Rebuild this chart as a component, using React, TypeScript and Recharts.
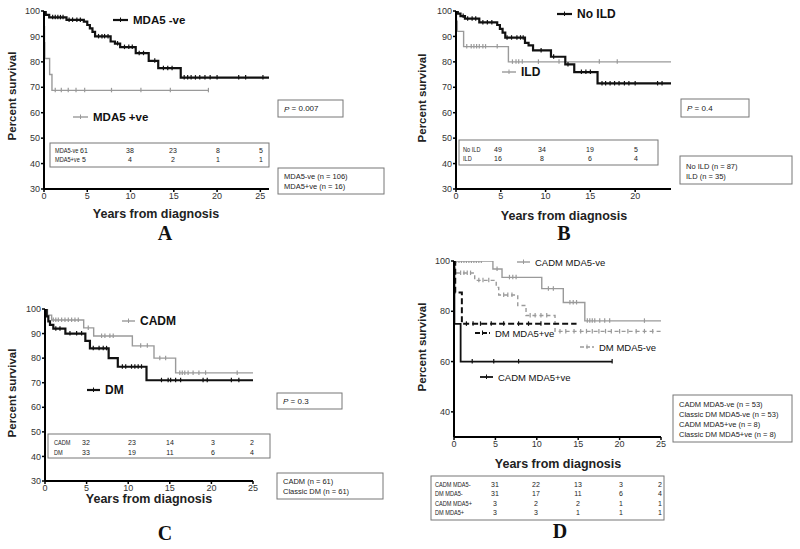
import React from "react";
import { LineChart, Line, XAxis, YAxis } from "recharts";

const FONT = '"Liberation Sans", Arial, sans-serif';
const BLACK = "#111";
const GREY = "#9a9a9a";

// ---- A: MDA5 status ----
const aNegT = [0, 0.2, 0.6, 2.6, 4.6, 5.0, 5.3, 5.6, 5.9, 7.7, 8.2, 8.8, 10.6, 12.1, 13.2, 15.8, 26];
const aNegS = [100, 98.5, 97.5, 96.5, 95.8, 94.5, 93.2, 91.8, 90, 88, 87.2, 85.8, 83.4, 80.4, 77.5, 73.8, 73.8];
const aNegCens = [1.0, 1.3, 1.6, 1.9, 2.2, 2.9, 3.3, 3.8, 4.2, 6.3, 6.7, 7.0, 7.4, 8.5, 9.3, 9.8, 10.2, 11.0, 11.5, 12.8, 13.8, 14.3, 14.8, 16.2, 16.6, 17.0, 17.5, 18.0, 18.6, 19.2, 20.0, 22.5, 23.3, 25.3];
const aPosT = [0, 0.02, 0.06, 0.1, 0.65, 0.92, 19];
const aPosS = [100, 93.8, 87.5, 81.3, 75, 68.8, 68.8];
const aPosCens = [1.3, 2.0, 2.8, 3.7, 4.7, 7.8, 11.2, 14.6, 19];

// ---- B: ILD ----
const bNoT = [0, 0.2, 0.5, 1.0, 2.6, 4.6, 4.9, 5.2, 5.5, 7.7, 8.1, 8.6, 10.6, 12.2, 13.2, 15.8, 24];
const bNoS = [100, 99, 98, 97, 95.5, 94.5, 93, 91.5, 89.5, 87.5, 86.5, 84.5, 82, 79, 76, 71.5, 71.5];
const bNoCens = [0.8, 1.3, 1.8, 2.2, 3.0, 3.5, 4.0, 5.7, 6.2, 6.8, 7.2, 7.5, 9.5, 10.9, 12.5, 14.0, 14.5, 15.0, 16.3, 16.7, 17.2, 17.7, 18.2, 18.8, 19.3, 20.0, 22.5, 23.0];
const bIldT = [0, 0.05, 0.15, 0.85, 5.85, 24];
const bIldS = [100, 96, 92, 86, 80, 80];
const bIldCens = [1.2, 1.7, 2.0, 2.3, 2.6, 3.0, 3.3, 4.6, 6.3, 6.7, 7.0, 7.4, 9.2, 11.5, 16.0, 18.0];

// ---- C: CADM vs DM ----
const cCadmT = [0, 0.3, 0.8, 4.65, 5.85, 10.5, 13.1, 15.7, 25];
const cCadmS = [100, 97.5, 95.5, 92.3, 89, 85, 80, 74, 74];
const cCadmCens = [1.0, 1.3, 1.6, 2.0, 2.4, 2.8, 3.2, 3.6, 4.0, 5.2, 6.8, 7.2, 7.8, 8.2, 11.5, 12.3, 13.8, 14.5, 16.2, 16.5, 16.8, 17.2, 17.8, 18.5, 19.3, 23.1];
const cDmT = [0, 0.2, 0.4, 0.6, 1.0, 2.45, 4.85, 5.4, 7.65, 8.75, 12.2, 25];
const cDmS = [100, 97, 95, 93.5, 92, 90, 87, 84, 80, 76.5, 71, 71];
const cDmCens = [1.3, 1.8, 3.0, 3.8, 4.4, 5.8, 6.5, 7.0, 7.4, 9.3, 9.7, 10.4, 10.8, 11.2, 11.6, 14.0, 14.8, 15.1, 15.7, 16.3, 19.0, 19.5, 22.4, 23.3];

// ---- D: subgroups ----
const dCadmNegT = [0, 4.7, 5.8, 10.6, 13.2, 15.8, 25];
const dCadmNegS = [100, 96.8, 93.5, 89, 83.5, 76.2, 76.2];
const dCadmNegCens = [0.3, 0.6, 0.9, 1.2, 1.5, 1.8, 2.1, 2.4, 2.7, 3.0, 3.3, 5.2, 6.7, 7.1, 7.5, 11.4, 12.0, 14.0, 14.4, 14.8, 16.1, 16.4, 16.7, 17.0, 17.6, 18.2, 18.8, 23.0];
const dDmNegT = [0, 0.1, 2.5, 5.1, 5.4, 7.7, 8.7, 12.2, 25];
const dDmNegS = [100, 95.2, 92.3, 89.5, 86.5, 82.3, 78.3, 72, 72];
const dDmNegCens = [0.8, 1.2, 1.6, 2.0, 3.0, 3.5, 4.2, 6.0, 6.5, 7.0, 9.2, 9.8, 10.5, 11.2, 12.8, 13.5, 14.5, 15.3, 16.0, 16.7, 17.5, 18.3, 19.0, 20.0, 21.0, 22.0, 23.0, 24.0];
const dDmPosT = [0, 0.15, 0.95, 14.8];
const dDmPosS = [100, 87.5, 75, 75];
const dDmPosCens = [1.5, 2.3, 3.2, 4.5, 6.0, 7.8, 9.0, 10.5];
const dCadmPosT = [0, 0.05, 0.8, 19.1];
const dCadmPosS = [100, 75, 60, 60];
const dCadmPosCens = [2.2, 4.8, 7.8, 19.1];

// number at risk tables
const riskALabels = ["MDA5-ve", "MDA5+ve"];
const riskA = [[61, 38, 23, 8, 5], [5, 4, 2, 1, 1]];
const riskBLabels = ["No ILD", "ILD"];
const riskB = [[49, 34, 19, 5], [16, 8, 6, 4]];
const riskCLabels = ["CADM", "DM"];
const riskC = [[32, 23, 14, 3, 2], [33, 19, 11, 6, 4]];
const riskDLabels = ["CADM MDA5-", "DM MDA5-", "CADM MDA5+", "DM MDA5+"];
const riskD = [[31, 22, 13, 3, 2], [31, 17, 11, 6, 4], [3, 2, 2, 1, 1], [3, 3, 1, 1, 1]];

const nA = ["MDA5-ve (n = 106)", "MDA5+ve (n = 16)"];
const nB = ["No ILD (n = 87)", "ILD (n = 35)"];
const nC = ["CADM (n = 61)", "Classic DM (n = 61)"];
const nD = ["CADM MDA5-ve (n = 53)", "Classic DM MDA5-ve (n = 53)", "CADM MDA5+ve (n = 8)", "Classic DM MDA5+ve (n = 8)"];

const yTicks = [30, 40, 50, 60, 70, 80, 90, 100];
const yTicksD = [40, 60, 80, 100];
const xTicks25 = [0, 5, 10, 15, 20, 25];
const xTicks20 = [0, 5, 10, 15, 20];

const stepPts = (t: number[], s: number[]) => t.map((x, i) => ({ t: x, s: s[i] }));
const survAt = (t: number[], s: number[], x: number) => {
  let v = s[0];
  t.forEach((tt, i) => {
    if (tt <= x) v = s[i];
  });
  return v;
};
const censPts = (t: number[], s: number[], c: number[]) => c.map((x) => ({ t: x, s: survAt(t, s, x) }));

interface Series {
  t: number[];
  s: number[];
  c: number[];
  color: string;
  width: number;
  dash?: string;
}

const censorMark = (color: string) => (p: any) => {
  if (p.cx == null || p.cy == null) return <g key={`e${p.index}`} />;
  return <line key={`m${p.index}`} x1={p.cx} x2={p.cx} y1={p.cy - 2.5} y2={p.cy + 2} stroke={color} strokeWidth={1.2} />;
};

interface PanelProps {
  left: number;
  top: number;
  w: number;
  h: number;
  xMax: number;
  xTicks: number[];
  yT: number[];
  series: Series[];
}

function KMPanel({ left, top, w, h, xMax, xTicks, yT, series }: PanelProps) {
  const YW = 40, MT = 6, MR = 6, XH = 20;
  return (
    <div style={{ position: "absolute", left: left - YW, top: top - MT }}>
      <LineChart width={w + YW + MR} height={h + MT + XH} margin={{ top: MT, right: MR, left: 0, bottom: 0 }}>
        <XAxis
          type="number"
          dataKey="t"
          domain={[0, xMax]}
          ticks={xTicks}
          interval={0}
          allowDataOverflow
          height={XH}
          axisLine={{ stroke: "#000", strokeWidth: 2 }}
          tickLine={{ stroke: "#000", strokeWidth: 1.5 }}
          tickSize={3}
          tickMargin={1}
          tick={{ fontSize: 9, fill: "#333" }}
        />
        <YAxis
          type="number"
          domain={[30, 100]}
          ticks={yT}
          interval={0}
          allowDataOverflow
          width={YW}
          axisLine={{ stroke: "#000", strokeWidth: 2 }}
          tickLine={{ stroke: "#000", strokeWidth: 1.5 }}
          tickSize={3}
          tickMargin={1}
          tick={{ fontSize: 9, fill: "#333" }}
        />
        {series.map((sr, i) => (
          <Line
            key={`l${i}`}
            data={stepPts(sr.t, sr.s)}
            dataKey="s"
            type="stepAfter"
            stroke={sr.color}
            strokeWidth={sr.width}
            strokeDasharray={sr.dash}
            dot={false}
            activeDot={false}
            isAnimationActive={false}
          />
        ))}
        {series.map((sr, i) => (
          <Line
            key={`c${i}`}
            data={censPts(sr.t, sr.s, sr.c)}
            dataKey="s"
            stroke="none"
            dot={censorMark(sr.color)}
            activeDot={false}
            isAnimationActive={false}
          />
        ))}
      </LineChart>
    </div>
  );
}

function Key({ x1, x2, y, label, color, width, dash, bold, size }: any) {
  const mid = (x1 + x2) / 2;
  return (
    <g>
      <line x1={x1} x2={x2} y1={y} y2={y} stroke={color} strokeWidth={width} strokeDasharray={dash} />
      <line x1={mid} x2={mid} y1={y - 2.5} y2={y + 2} stroke={color} strokeWidth={1} />
      <text x={x2 + 5} y={y} dominantBaseline="central" fontSize={size} fontWeight={bold ? "bold" : "normal"} fill="#111">
        {label}
      </text>
    </g>
  );
}

// table text is a narrow face in the original, so squeeze labels horizontally
function RiskTable({ x, y, w, h, labelX, cols, rowYs, labels, rows }: any) {
  return (
    <g>
      <rect x={x} y={y} width={w} height={h} fill="none" stroke="#777" strokeWidth={1} />
      {labels.map((lab: string, i: number) => (
        <g key={lab}>
          <text
            x={0}
            y={0}
            transform={`translate(${labelX} ${rowYs[i]}) scale(0.75 1)`}
            dominantBaseline="central"
            fontSize={7.5}
            fill="#222"
          >
            {lab}
          </text>
          {rows[i].map((v: number, j: number) => (
            <text key={j} x={cols[j]} y={rowYs[i]} textAnchor="middle" dominantBaseline="central" fontSize={7} fill="#222">
              {v}
            </text>
          ))}
        </g>
      ))}
    </g>
  );
}

function NBox({ x, y, w, h, lines, lineYs }: any) {
  return (
    <g>
      <rect x={x} y={y} width={w} height={h} fill="none" stroke="#777" strokeWidth={1} />
      {lines.map((s: string, i: number) => (
        <text key={s} x={x + 6} y={lineYs[i]} dominantBaseline="central" fontSize={7.5} fill="#222">
          {s}
        </text>
      ))}
    </g>
  );
}

function PBox({ x, y, w, h, value }: any) {
  return (
    <g>
      <rect x={x} y={y} width={w} height={h} fill="none" stroke="#777" strokeWidth={1} />
      <text x={x + 6} y={y + h / 2} dominantBaseline="central" fontSize={8} fill="#222">
        <tspan fontStyle="italic">P</tspan> = {value}
      </text>
    </g>
  );
}

function AxisTitles({ yx, yy, xx, xy }: any) {
  return (
    <g fontWeight="bold" fill="#222">
      <text x={yx} y={yy} fontSize={11.5} textAnchor="middle" dominantBaseline="central" transform={`rotate(-90 ${yx} ${yy})`}>
        Percent survival
      </text>
      <text x={xx} y={xy} fontSize={12.5} textAnchor="middle" dominantBaseline="central">
        Years from diagnosis
      </text>
    </g>
  );
}

export default function App() {
  return (
    <div style={{ position: "absolute", left: 0, top: 0, width: 800, height: 549, background: "#fff", fontFamily: FONT }}>
      <KMPanel
        left={44} top={11} w={225} h={178} xMax={26} xTicks={xTicks25} yT={yTicks}
        series={[
          { t: aPosT, s: aPosS, c: aPosCens, color: GREY, width: 1.4 },
          { t: aNegT, s: aNegS, c: aNegCens, color: BLACK, width: 2.2 },
        ]}
      />
      <KMPanel
        left={456} top={11} w={215} h={178} xMax={24} xTicks={xTicks20} yT={yTicks}
        series={[
          { t: bIldT, s: bIldS, c: bIldCens, color: GREY, width: 1.4 },
          { t: bNoT, s: bNoS, c: bNoCens, color: BLACK, width: 2.2 },
        ]}
      />
      <KMPanel
        left={45} top={309} w={208} h={172} xMax={25} xTicks={xTicks25} yT={yTicks}
        series={[
          { t: cCadmT, s: cCadmS, c: cCadmCens, color: GREY, width: 1.4 },
          { t: cDmT, s: cDmS, c: cDmCens, color: BLACK, width: 2.2 },
        ]}
      />
      <KMPanel
        left={454} top={261} w={207} h={176} xMax={25} xTicks={xTicks25} yT={yTicksD}
        series={[
          { t: dCadmNegT, s: dCadmNegS, c: dCadmNegCens, color: GREY, width: 1.4 },
          { t: dDmNegT, s: dDmNegS, c: dDmNegCens, color: GREY, width: 1.4, dash: "4 3" },
          { t: dDmPosT, s: dDmPosS, c: dDmPosCens, color: BLACK, width: 2, dash: "6 3" },
          { t: dCadmPosT, s: dCadmPosS, c: dCadmPosCens, color: BLACK, width: 1.8 },
        ]}
      />
      <svg width={800} height={549} style={{ position: "absolute", left: 0, top: 0, pointerEvents: "none" }} fontFamily={FONT}>
        {/* A */}
        <Key x1={113} x2={128} y={20} label="MDA5 -ve" color={BLACK} width={2.2} bold size={11.5} />
        <Key x1={73} x2={88} y={117} label="MDA5 +ve" color={GREY} width={1.4} bold size={11.5} />
        <RiskTable x={50} y={143} w={219} h={24} labelX={55} cols={[84, 130, 173, 218, 261]} rowYs={[150, 159]} labels={riskALabels} rows={riskA} />
        <PBox x={278} y={100} w={65} h={17} value="0.007" />
        <NBox x={278} y={168} w={106} h={26} lines={nA} lineYs={[176, 186]} />
        <AxisTitles yx={12} yy={96} xx={156} xy={214} />
        {/* B */}
        <Key x1={557} x2={572} y={14} label="No ILD" color={BLACK} width={2.2} bold size={12} />
        <Key x1={502} x2={516} y={72} label="ILD" color={GREY} width={1.4} bold size={12} />
        <RiskTable x={459} y={140} w={199} h={25} labelX={463} cols={[498, 542, 590, 636]} rowYs={[149, 158]} labels={riskBLabels} rows={riskB} />
        <PBox x={681} y={99} w={68} h={18} value="0.4" />
        <NBox x={680} y={156} w={112} h={28} lines={nB} lineYs={[166, 176]} />
        <AxisTitles yx={422} yy={98} xx={564} xy={216} />
        {/* C */}
        <Key x1={122} x2={135} y={321} label="CADM" color={GREY} width={1.4} bold size={12} />
        <Key x1={87} x2={100} y={390} label="DM" color={BLACK} width={2.2} bold size={12} />
        <RiskTable x={48} y={434} w={222} h={24} labelX={54} cols={[86, 132, 170, 213, 252]} rowYs={[442, 452]} labels={riskCLabels} rows={riskC} />
        <PBox x={277} y={393} w={65} h={16} value="0.3" />
        <NBox x={277} y={473} w={106} h={26} lines={nC} lineYs={[481, 491]} />
        <AxisTitles yx={12} yy={393} xx={149} xy={499} />
        {/* D */}
        <Key x1={517} x2={530} y={262} label="CADM MDA5-ve" color={GREY} width={1.4} size={9.5} />
        <Key x1={475} x2={490} y={333} label="DM MDA5+ve" color={BLACK} width={2} dash="5 2" size={9.5} />
        <Key x1={580} x2={594} y={347} label="DM MDA5-ve" color={GREY} width={1.4} dash="4 2" size={9.5} />
        <Key x1={480} x2={493} y={377} label="CADM MDA5+ve" color={BLACK} width={1.8} size={9.5} />
        <RiskTable x={431} y={476} w={233} h={44} labelX={435} cols={[495, 536, 578, 621, 660]} rowYs={[484, 493.5, 503, 512]} labels={riskDLabels} rows={riskD} />
        <NBox x={673} y={395} w={119} h={47} lines={nD} lineYs={[404, 414, 424, 434]} />
        <AxisTitles yx={422} yy={347} xx={558} xy={464} />
        {/* panel letters */}
        <g fontFamily='"Liberation Serif", "Times New Roman", serif' fontWeight="bold" fontSize={20} fill="#111" textAnchor="middle">
          <text x={165} y={240}>A</text>
          <text x={564} y={240}>B</text>
          <text x={165} y={540}>C</text>
          <text x={560} y={538}>D</text>
        </g>
      </svg>
    </div>
  );
}
